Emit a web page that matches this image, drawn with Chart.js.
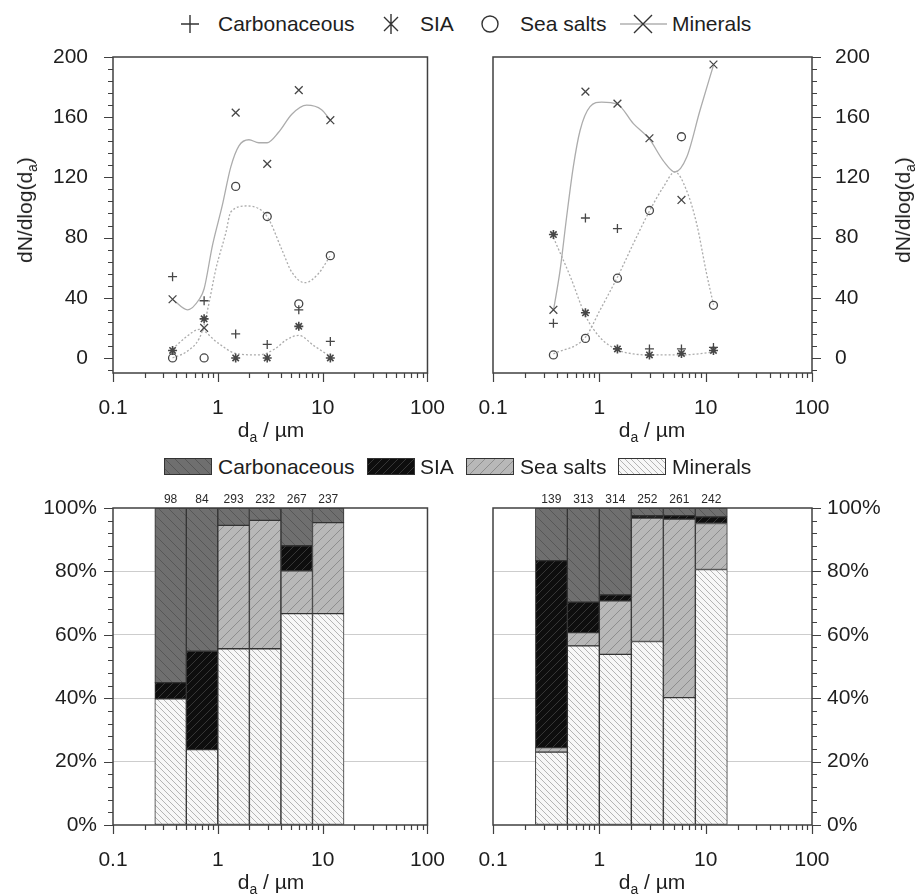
<!DOCTYPE html>
<html lang="en">
<head>
<meta charset="UTF-8">
<title>Particle classes by aerodynamic diameter</title>
<script src="https://cdn.jsdelivr.net/npm/chart.js@4"></script>
<style>
  * { margin: 0; padding: 0; box-sizing: border-box; }
  body { width: 917px; height: 896px; background: #fff; position: relative; overflow: hidden;
         font-family: 'Liberation Sans', Arial, sans-serif; color: #1e1e1e; }
  .panel { position: absolute; }
  .txt { position: absolute; font-size: 21px; line-height: 24px; white-space: nowrap; }
  .xlab, .ylab { position: absolute; font-size: 21px; line-height: 24px; white-space: nowrap; }
  .xlab { transform: translate(-50%, -50%); }
  .ylab { transform: translate(-50%, -50%) rotate(-90deg); }
  sub { font-size: 14px; vertical-align: -5px; line-height: 0; }
  .sw { position: absolute; }
</style>
</head>
<body>

<svg width="917" height="48" style="position:absolute;left:0;top:0">
  <g stroke="#333" stroke-width="1.4" fill="none">
    <path d="M181 24h18M190 15v18"/>
    <path d="M391 14v20M384 17l14 14M398 17l-14 14"/>
    <circle cx="490" cy="24" r="8"/>
    <path d="M620 24h47" stroke="#b0b0b0"/>
    <path d="M634 15l18 18M652 15l-18 18"/>
  </g>
</svg>
<div class="txt" style="left:218px;top:12px">Carbonaceous</div>
<div class="txt" style="left:420px;top:12px">SIA</div>
<div class="txt" style="left:520px;top:12px">Sea salts</div>
<div class="txt" style="left:672px;top:12px">Minerals</div>

<canvas id="swC" class="sw" width="48" height="17" style="left:164px;top:458px"></canvas>
<canvas id="swS" class="sw" width="48" height="17" style="left:367px;top:458px"></canvas>
<canvas id="swN" class="sw" width="48" height="17" style="left:466px;top:458px"></canvas>
<canvas id="swM" class="sw" width="48" height="17" style="left:618px;top:458px"></canvas>
<div class="txt" style="left:218px;top:455px">Carbonaceous</div>
<div class="txt" style="left:420px;top:455px">SIA</div>
<div class="txt" style="left:520px;top:455px">Sea salts</div>
<div class="txt" style="left:672px;top:455px">Minerals</div>

<canvas id="topL" class="panel" width="460" height="420" style="left:0;top:0"></canvas>
<canvas id="topR" class="panel" width="457" height="420" style="left:460px;top:0"></canvas>
<canvas id="barL" class="panel" width="460" height="456" style="left:0;top:440px"></canvas>
<canvas id="barR" class="panel" width="457" height="456" style="left:460px;top:440px"></canvas>

<div class="ylab" style="left:25px;top:210px">dN/dlog(d<sub>a</sub>)</div>
<div class="ylab" style="left:903px;top:210px">dN/dlog(d<sub>a</sub>)</div>
<div class="xlab" style="left:271px;top:430px">d<sub>a</sub> / µm</div>
<div class="xlab" style="left:652px;top:430px">d<sub>a</sub> / µm</div>
<div class="xlab" style="left:271px;top:882px">d<sub>a</sub> / µm</div>
<div class="xlab" style="left:652px;top:882px">d<sub>a</sub> / µm</div>

<script>
// size classes (µm)
const sizeMid = [0.37, 0.74, 1.48, 2.96, 5.92, 11.84];
const binMid = [0.354, 0.707, 1.414, 2.828, 5.657, 11.31];
const xTicks = [0.1, 1, 10, 100];
const yTicksTop = [0, 40, 80, 120, 160, 200];
const yTicksBar = [0, 20, 40, 60, 80, 100];

// left panels
const carbL = [54, 38, 16, 9, 32, 11];
const siaL = [5, 26, 0, 0, 21, 0];
const seaL = [0, 0, 114, 94, 36, 68];
const minL = [39, 20, 163, 129, 178, 158];
const countsL = [98, 84, 293, 232, 267, 237];
const pctMinL = [39.8, 23.8, 55.6, 55.6, 66.7, 66.7];
const pctSeaL = [0, 0, 38.9, 40.5, 13.5, 28.7];
const pctSiaL = [5.1, 31.0, 0, 0, 7.9, 0];
const pctCarbL = [55.1, 45.2, 5.5, 3.9, 11.9, 4.6];

// right panels
const carbR = [23, 93, 86, 6, 6, 7];
const siaR = [82, 30, 6, 2, 3, 5];
const seaR = [2, 13, 53, 98, 147, 35];
const minR = [32, 177, 169, 146, 105, 195];
const countsR = [139, 313, 314, 252, 261, 242];
const pctMinR = [23.0, 56.5, 53.8, 57.9, 40.2, 80.6];
const pctSeaR = [1.4, 4.2, 16.9, 38.9, 56.3, 14.5];
const pctSiaR = [59.0, 9.6, 1.9, 0.8, 1.1, 2.1];
const pctCarbR = [16.6, 29.7, 27.4, 2.4, 2.4, 2.8];

// smoothed curves
const minCurveLx = [0.37, 0.515, 0.665, 0.74, 0.89, 1.1, 1.33, 1.59, 1.98, 2.46, 2.95, 3.8, 5.08, 7.04, 9.77, 11.84];
const minCurveLy = [39, 32, 39, 46, 75, 101, 127, 141, 145, 143, 143, 150, 162, 168, 165, 158];
const seaCurveLx = [0.37, 0.5, 0.665, 0.74, 0.827, 0.957, 1.19, 1.33, 1.9, 2.95, 4.08, 5.08, 6.8, 9.1, 11.84];
const seaCurveLy = [0, 4, 13, 22, 37, 59, 83, 97, 101, 94, 72, 57, 50, 56, 68];
const siaCurveLx = [0.37, 0.5, 0.665, 1.0, 1.48, 2.46, 3.5, 4.5, 5.9, 8.3, 11.84];
const siaCurveLy = [6, 14, 19, 10, 3, 2, 6, 12, 15, 8, 1];
const minCurveRx = [0.37, 0.427, 0.493, 0.569, 0.658, 0.818, 1.05, 1.48, 2.09, 2.94, 4.0, 5.15, 6.64, 8.85, 11.84];
const minCurveRy = [31.5, 58, 94, 127, 151, 167, 170, 168.6, 155.7, 145.7, 131, 123.6, 133.5, 164.6, 194.5];
const seaCurveRx = [0.37, 0.74, 1.01, 1.48, 2.09, 2.96, 4.0, 5.15, 6.64, 8.24, 10.2, 11.84];
const seaCurveRy = [2.7, 13.8, 31.5, 53.7, 76, 97.6, 113.6, 123.6, 111, 89, 56, 35.5];
const siaCurveRx = [0.37, 0.536, 0.74, 1.01, 1.48, 2.09, 2.96, 5.92, 11.84];
const siaCurveRy = [80, 53.7, 28.2, 13.8, 5.3, 2.7, 2, 2, 3.8];

Chart.defaults.font.family = "'Liberation Sans', Arial, sans-serif";
Chart.defaults.font.size = 21;
Chart.defaults.color = '#1e1e1e';

const xy = (xs, ys) => xs.map((x, i) => ({ x, y: ys[i] }));

// hatched fills
function hatchTile(bg, fg, size, back) {
  const c = document.createElement('canvas');
  c.width = c.height = size;
  const g = c.getContext('2d');
  g.fillStyle = bg;
  g.fillRect(0, 0, size, size);
  g.strokeStyle = fg;
  g.lineWidth = 1;
  g.beginPath();
  if (back) {
    g.moveTo(0, 0); g.lineTo(size, size);
    g.moveTo(-1, size - 1); g.lineTo(1, size + 1);
    g.moveTo(size - 1, -1); g.lineTo(size + 1, 1);
  } else {
    g.moveTo(0, size); g.lineTo(size, 0);
    g.moveTo(-1, 1); g.lineTo(1, -1);
    g.moveTo(size - 1, size + 1); g.lineTo(size + 1, size - 1);
  }
  g.stroke();
  return c;
}
const tiles = {
  carb: hatchTile('#6f6f6f', '#575757', 10, true),
  sia: hatchTile('#0e0e0e', '#363636', 8, false),
  sea: hatchTile('#b8b8b8', '#8e8e8e', 10, false),
  min: hatchTile('#f7f7f7', '#b4b4b4', 6, true),
};

[['swC', 'carb'], ['swS', 'sia'], ['swN', 'sea'], ['swM', 'min']].forEach(([id, k]) => {
  const g = document.getElementById(id).getContext('2d');
  g.fillStyle = g.createPattern(tiles[k], 'repeat');
  g.fillRect(0, 0, 48, 17);
  g.strokeStyle = '#333';
  g.lineWidth = 1;
  g.strokeRect(0.5, 0.5, 47, 16);
});

// frame and minor ticks
const frameTicks = {
  id: 'frameTicks',
  afterDatasetsDraw(chart, args, o) {
    const { ctx, chartArea: a } = chart;
    const x = chart.scales.x, y = chart.scales.y;
    ctx.save();
    ctx.strokeStyle = '#404040';
    ctx.lineWidth = 1.2;
    ctx.beginPath();
    for (let d = -1; d <= 2; d++) {
      for (let m = 1; m <= 9; m++) {
        const v = m * Math.pow(10, d);
        if (v > 100.001) break;
        const px = Math.round(x.getPixelForValue(v)) + 0.5;
        ctx.moveTo(px, a.bottom);
        ctx.lineTo(px, a.bottom + (m === 1 ? 9 : 5));
      }
    }
    const edge = o.right ? a.right : a.left;
    const dir = o.right ? 1 : -1;
    for (let v = o.from; v <= o.to + 1e-9; v += o.minor) {
      const py = Math.round(y.getPixelForValue(v)) + 0.5;
      const major = Math.abs(v / o.major - Math.round(v / o.major)) < 1e-6;
      ctx.moveTo(edge, py);
      ctx.lineTo(edge + dir * (major ? 9 : 5), py);
    }
    ctx.stroke();
    ctx.lineWidth = 1.5;
    ctx.strokeRect(a.left, a.top, a.right - a.left, a.bottom - a.top);
    ctx.restore();
  }
};

// particle counts above the bars
const countLabels = {
  id: 'countLabels',
  afterDraw(chart, args, o) {
    if (!o.counts) return;
    const { ctx, chartArea: a } = chart;
    const x = chart.scales.x;
    ctx.save();
    ctx.font = "12px 'Liberation Sans', Arial, sans-serif";
    ctx.fillStyle = '#2a2a2a';
    ctx.textAlign = 'center';
    ctx.textBaseline = 'middle';
    o.counts.forEach((n, i) => ctx.fillText(String(n), x.getPixelForValue(binMid[i]), a.top - 8));
    ctx.restore();
  }
};
Chart.register(frameTicks, countLabels);

function logAxis(h) {
  return {
    type: 'logarithmic', min: 0.1, max: 100, offset: false,
    afterBuildTicks: s => { s.ticks = xTicks.map(v => ({ value: v })); },
    afterFit: s => { s.height = h; },
    grid: { display: false, offset: false }, border: { display: false },
    ticks: { padding: 15, autoSkip: false, maxRotation: 0, callback: v => String(v) }
  };
}

const pointSet = (label, ys, style, r, w) => ({
  label, data: xy(sizeMid, ys), showLine: false, order: 0,
  pointStyle: style, pointRadius: r, pointBorderWidth: w,
  pointBorderColor: '#474747', pointBackgroundColor: 'rgba(0,0,0,0)'
});
const curveSet = (xs, ys, dashed) => ({
  data: xy(xs, ys), showLine: true, order: 5, pointRadius: 0,
  borderColor: '#acacac', borderWidth: 1.3, borderDash: dashed ? [2, 2] : [],
  cubicInterpolationMode: 'monotone'
});

function topChart(id, s, right) {
  return new Chart(document.getElementById(id), {
    type: 'scatter',
    data: {
      datasets: [
        pointSet('Carbonaceous', s.carb, 'cross', 4.5, 1.3),
        pointSet('SIA', s.sia, 'star', 4.5, 1.6),
        pointSet('Sea salts', s.sea, 'circle', 4, 1.3),
        pointSet('Minerals', s.min, 'crossRot', 5.5, 1.3),
        curveSet(s.mcx, s.mcy, false),
        curveSet(s.scx, s.scy, true),
        curveSet(s.icx, s.icy, true),
      ]
    },
    options: {
      responsive: false, animation: false, events: [],
      layout: { padding: right ? { left: 33, top: 57 } : { right: 30, top: 57 } },
      plugins: {
        legend: { display: false }, tooltip: { enabled: false },
        frameTicks: { right, from: -8, to: 200, minor: 8, major: 40 }
      },
      scales: {
        x: logAxis(47),
        y: {
          type: 'linear', position: right ? 'right' : 'left', min: -10, max: 200,
          afterBuildTicks: sc => { sc.ticks = yTicksTop.map(v => ({ value: v })); },
          afterFit: sc => { sc.width = right ? 105 : 113; },
          grid: { display: false }, border: { display: false },
          ticks: { padding: right ? 15 : 17 }
        }
      }
    }
  });
}

function barChart(id, s, right) {
  const ctx = document.getElementById(id).getContext('2d');
  const fill = k => ctx.createPattern(tiles[k], 'repeat');
  const barSet = (label, vals, k) => ({
    label, data: xy(binMid, vals), backgroundColor: fill(k),
    borderColor: '#333', borderWidth: 1, borderSkipped: false,
    barPercentage: 1, categoryPercentage: 1
  });
  return new Chart(ctx, {
    type: 'bar',
    data: {
      datasets: [
        barSet('Minerals', s.min, 'min'),
        barSet('Sea salts', s.sea, 'sea'),
        barSet('SIA', s.sia, 'sia'),
        barSet('Carbonaceous', s.carb, 'carb'),
      ]
    },
    options: {
      responsive: false, animation: false, events: [],
      layout: { padding: right ? { left: 33, top: 68 } : { right: 30, top: 68 } },
      plugins: {
        legend: { display: false }, tooltip: { enabled: false },
        frameTicks: { right, from: 0, to: 100, minor: 4, major: 20 },
        countLabels: { counts: s.counts }
      },
      scales: {
        x: Object.assign(logAxis(71), { stacked: true }),
        y: {
          type: 'linear', position: right ? 'right' : 'left', min: 0, max: 100, stacked: true,
          afterBuildTicks: sc => { sc.ticks = yTicksBar.map(v => ({ value: v })); },
          afterFit: sc => { sc.width = right ? 105 : 113; },
          grid: {
            drawTicks: false,
            color: c => (c.tick && (c.tick.value === 0 || c.tick.value === 100)) ? 'rgba(0,0,0,0)' : '#cdcdcd'
          },
          border: { display: false },
          ticks: { padding: right ? 15 : 16, callback: v => v + '%' }
        }
      }
    }
  });
}

topChart('topL', {
  carb: carbL, sia: siaL, sea: seaL, min: minL,
  mcx: minCurveLx, mcy: minCurveLy, scx: seaCurveLx, scy: seaCurveLy, icx: siaCurveLx, icy: siaCurveLy
}, false);
topChart('topR', {
  carb: carbR, sia: siaR, sea: seaR, min: minR,
  mcx: minCurveRx, mcy: minCurveRy, scx: seaCurveRx, scy: seaCurveRy, icx: siaCurveRx, icy: siaCurveRy
}, true);
barChart('barL', { min: pctMinL, sea: pctSeaL, sia: pctSiaL, carb: pctCarbL, counts: countsL }, false);
barChart('barR', { min: pctMinR, sea: pctSeaR, sia: pctSiaR, carb: pctCarbR, counts: countsR }, true);
</script>
</body>
</html>
